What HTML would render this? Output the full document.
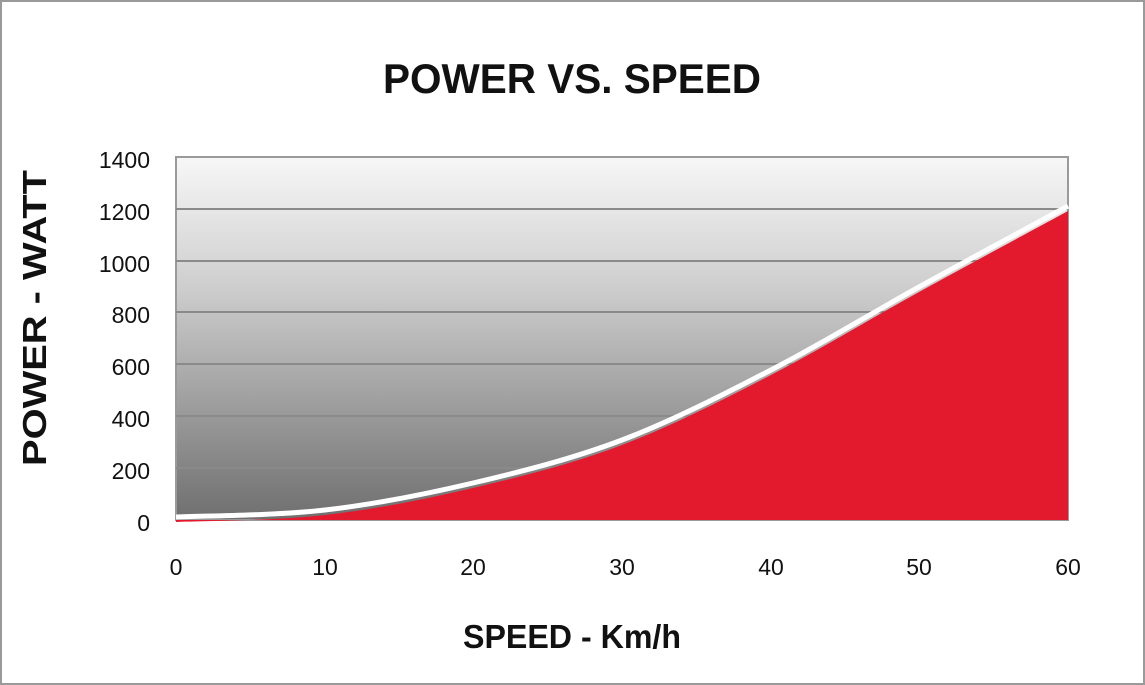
<!DOCTYPE html>
<html><head><meta charset="utf-8"><style>
html,body{margin:0;padding:0;background:#fff}
svg{display:block}
text{font-family:"Liberation Sans",sans-serif;fill:#111}
</style></head><body>
<svg width="1145" height="685" viewBox="0 0 1145 685" xmlns="http://www.w3.org/2000/svg">
<defs>
<linearGradient id="bg" x1="0" y1="0" x2="0" y2="1">
<stop offset="0" stop-color="#f7f7f7"/>
<stop offset="0.35" stop-color="#cfcfcf"/>
<stop offset="1" stop-color="#6f6f6f"/>
</linearGradient>
</defs>
<rect x="1" y="1" width="1143" height="683" fill="#fff" stroke="#9a9a9a" stroke-width="2"/>
<text x="572" y="93" text-anchor="middle" font-size="42" font-weight="bold" textLength="378" lengthAdjust="spacingAndGlyphs">POWER VS. SPEED</text>
<rect x="176" y="157" width="892" height="363" fill="url(#bg)" stroke="#9a9a9a" stroke-width="2"/>
<g stroke="#8a8a8a" stroke-width="2">
<line x1="176" y1="209" x2="1068" y2="209"/>
<line x1="176" y1="261" x2="1068" y2="261"/>
<line x1="176" y1="312" x2="1068" y2="312"/>
<line x1="176" y1="364" x2="1068" y2="364"/>
<line x1="176" y1="416" x2="1068" y2="416"/>
<line x1="176" y1="468" x2="1068" y2="468"/>
</g>
<g transform="translate(0,3)">
<path d="M176,519 C200.8,517.8 275.5,517.7 325,512 C374.5,506.3 423.5,496.7 473,485 C522.5,473.3 572.5,460.8 622,442 C671.5,423.2 721.5,397.5 771,372 C820.5,346.5 869.5,316.3 919,289 C968.5,261.7 1043.2,221.5 1068,208 L1068,517 L176,517 Z" fill="#e31a2e"/>
</g>
<path d="M176,517 C200.8,515.8 275.5,515.7 325,510 C374.5,504.3 423.5,494.7 473,483 C522.5,471.3 572.5,458.8 622,440 C671.5,421.2 721.5,395.5 771,370 C820.5,344.5 869.5,314.3 919,287 C968.5,259.7 1043.2,219.5 1068,206" fill="none" stroke="#fff" stroke-width="5"/>
<g font-size="23" text-anchor="end">
<text x="150" y="168">1400</text>
<text x="150" y="220">1200</text>
<text x="150" y="272">1000</text>
<text x="150" y="323">800</text>
<text x="150" y="375">600</text>
<text x="150" y="427">400</text>
<text x="150" y="479">200</text>
<text x="150" y="531">0</text>
</g>
<g font-size="23" text-anchor="middle">
<text x="176" y="575">0</text>
<text x="325" y="575">10</text>
<text x="473" y="575">20</text>
<text x="622" y="575">30</text>
<text x="771" y="575">40</text>
<text x="919" y="575">50</text>
<text x="1068" y="575">60</text>
</g>
<text x="572" y="648" text-anchor="middle" font-size="33" font-weight="bold" textLength="218" lengthAdjust="spacingAndGlyphs">SPEED - Km/h</text>
<text transform="translate(46,318) rotate(-90)" text-anchor="middle" font-size="33" font-weight="bold" textLength="296" lengthAdjust="spacingAndGlyphs">POWER - WATT</text>
</svg>
</body></html>
